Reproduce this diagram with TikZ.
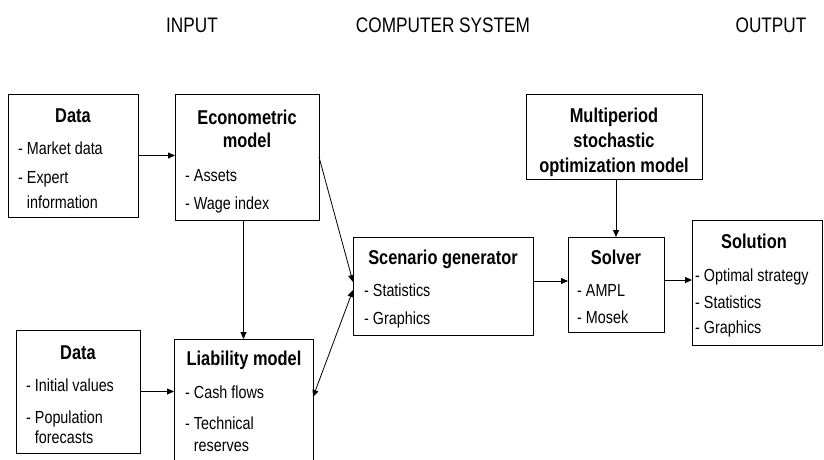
\documentclass[tikz,border=0pt]{standalone}
\usepackage{fontspec}
\setmainfont{Liberation Sans}[FakeStretch=0.82]
\usetikzlibrary{arrows.meta}
\begin{document}
\begin{tikzpicture}[x=1pt,y=-1pt,
  box/.style={draw, line width=1pt, inner sep=0pt, outer sep=0pt},
  head/.style={inner sep=0pt, anchor=center, text height=14.4pt, text depth=0pt, font=\fontsize{20}{24}\selectfont\bfseries},
  item/.style={inner sep=0pt, anchor=west, text height=12.6pt, text depth=0pt, font=\fontsize{17.5}{21}\selectfont},
  ttl/.style={inner sep=0pt, anchor=center, text height=15pt, text depth=0pt, font=\fontsize{21}{25}\selectfont},
  arr/.style={line width=0.8pt, -{Triangle[length=7pt,width=6pt]}},
  darr/.style={line width=0.8pt, {Triangle[length=7pt,width=6pt]}-{Triangle[length=7pt,width=6pt]}}]
\useasboundingbox (0,0) rectangle (824,460);
\clip (0,0) rectangle (824,460);

% titles
\node[ttl] (tin)  at (192,25) {INPUT};
\node[ttl] (tcs)  at (443,25) {COMPUTER SYSTEM};
\node[ttl] (tout) at (771,25) {OUTPUT};

% boxes
\node[box, minimum width=130pt, minimum height=123pt] (data1) at (73,155.5) {};
\node[box, minimum width=144pt, minimum height=126pt] (econ) at (247,157) {};
\node[box, minimum width=139pt, minimum height=136pt] (liab) at (243.5,407) {};
\node[box, minimum width=124pt, minimum height=123pt] (data2) at (78,391.5) {};
\node[box, minimum width=180pt, minimum height=98pt] (scen) at (443,286) {};
\node[box, minimum width=176pt, minimum height=85pt] (multi) at (614,136.5) {};
\node[box, minimum width=96pt, minimum height=95pt] (solver) at (616,284.5) {};
\node[box, minimum width=130pt, minimum height=125pt] (sol) at (757,282.5) {};

% texts: Data 1
\node[head] (d1h) at (73,115) {Data};
\node[item] (d1a) at (18,148) {- Market data};
\node[item] (d1b) at (18,177) {- Expert};
\node[item] (d1c) at (18,202) {\phantom{- }information};
% Econometric
\node[head] (eh1) at (247,117) {Econometric};
\node[head] (eh2) at (247,140) {model};
\node[item] (ea) at (185,175) {- Assets};
\node[item] (eb) at (185,203) {- Wage index};
% Liability
\node[head] (lh) at (244,358) {Liability model};
\node[item] (la) at (185,392) {- Cash flows};
\node[item] (lb) at (185,423) {- Technical};
\node[item] (lc) at (185,445) {\phantom{- }reserves};
% Data 2
\node[head] (d2h) at (78,352) {Data};
\node[item] (d2a) at (26,385) {- Initial values};
\node[item] (d2b) at (26,417) {- Population};
\node[item] (d2c) at (26,437) {\phantom{- }forecasts};
% Scenario
\node[head] (sh) at (443,257) {Scenario generator};
\node[item] (sa) at (364,290) {- Statistics};
\node[item] (sb) at (364,318) {- Graphics};
% Multiperiod
\node[head] (mh1) at (614,115) {Multiperiod};
\node[head] (mh2) at (614,140) {stochastic};
\node[head] (mh3) at (614,165) {optimization model};
% Solver
\node[head] (vh) at (616,257) {Solver};
\node[item] (va) at (577,290) {- AMPL};
\node[item] (vb) at (577,317) {- Mosek};
% Solution
\node[head] (oh) at (754,241) {Solution};
\node[item] (oa) at (695,275) {- Optimal strategy};
\node[item] (ob) at (695,302) {- Statistics};
\node[item] (oc) at (695,327) {- Graphics};

% connectors
\draw[arr] (data1.east) -- (econ.west |- data1.east);
\draw[arr] (data2.east) -- (liab.west |- data2.east);
\draw[arr] (liab.north |- econ.south) -- (liab.north);
\draw[arr] (econ.east) -- ([yshift=4pt]scen.west);
\coordinate (lr) at ([yshift=-58pt]liab.north east);
\draw[darr] (lr) -- ([yshift=-4pt]scen.west);
\coordinate (sr) at ([yshift=5pt]scen.east);
\draw[arr] (sr) -- (solver.west |- sr);
\draw[arr] (solver.north |- multi.south) -- (solver.north);
\coordinate (vr) at ([yshift=4.5pt]solver.east);
\draw[arr] (vr) -- (sol.west |- vr);
\end{tikzpicture}
\end{document}
